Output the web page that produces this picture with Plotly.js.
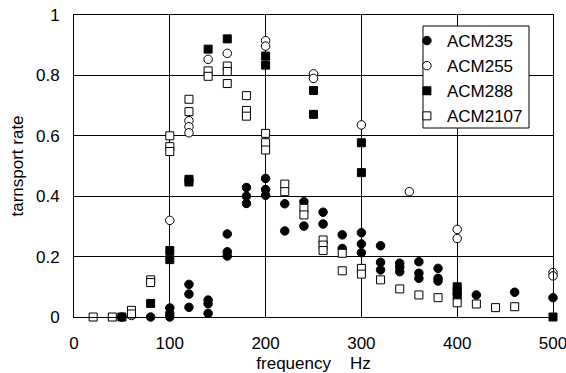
<!DOCTYPE html>
<html>
<head>
<meta charset="utf-8">
<script src="https://cdn.plot.ly/plotly-3.0.1.min.js"></script>
<style>html,body{margin:0;padding:0;background:#fff;}#chart{width:566px;height:373px;}</style>
</head>
<body>
<div id="chart"></div>
<script>
// ACM235 (filled circles)
const acm235Freq = [50, 80, 100, 100, 100, 120, 120, 120, 140, 140, 140, 160, 160, 160, 180, 180, 180, 200, 200, 200, 220, 220, 240, 240, 260, 260, 280, 280, 300, 300, 300, 320, 320, 320, 340, 340, 340, 360, 360, 360, 380, 380, 380, 420, 460, 500];
const acm235Rate = [0.0, 0.0, 0.03, 0.012, 0.0, 0.108, 0.076, 0.032, 0.056, 0.044, 0.012, 0.275, 0.216, 0.202, 0.429, 0.400, 0.376, 0.459, 0.422, 0.403, 0.375, 0.285, 0.382, 0.301, 0.347, 0.308, 0.272, 0.227, 0.279, 0.242, 0.213, 0.236, 0.181, 0.156, 0.178, 0.165, 0.150, 0.183, 0.145, 0.128, 0.161, 0.128, 0.119, 0.073, 0.082, 0.064];

// ACM255 (open circles)
const acm255Freq = [60, 100, 120, 120, 120, 140, 160, 200, 200, 250, 250, 300, 350, 400, 400, 500, 500];
const acm255Rate = [0.005, 0.32, 0.65, 0.63, 0.61, 0.853, 0.873, 0.915, 0.897, 0.805, 0.79, 0.636, 0.415, 0.29, 0.26, 0.147, 0.136];

// ACM288 (filled squares)
const acm288Freq = [50, 80, 100, 100, 120, 120, 140, 160, 200, 200, 250, 250, 300, 300, 400, 400, 400, 500];
const acm288Rate = [0.0, 0.045, 0.22, 0.19, 0.456, 0.447, 0.887, 0.921, 0.864, 0.834, 0.75, 0.671, 0.577, 0.478, 0.10, 0.085, 0.07, 0.0];

// ACM2107 (open squares)
const acm2107Freq = [20, 40, 60, 60, 80, 80, 100, 100, 100, 120, 120, 140, 140, 160, 160, 160, 180, 180, 180, 200, 200, 200, 220, 220, 240, 240, 260, 260, 260, 280, 280, 300, 300, 320, 340, 360, 380, 400, 420, 440, 460];
const acm2107Rate = [0.0, 0.0, 0.022, 0.01, 0.123, 0.114, 0.60, 0.564, 0.548, 0.721, 0.68, 0.815, 0.797, 0.831, 0.813, 0.773, 0.733, 0.684, 0.665, 0.608, 0.577, 0.553, 0.44, 0.415, 0.36, 0.338, 0.255, 0.238, 0.22, 0.211, 0.153, 0.161, 0.142, 0.123, 0.093, 0.073, 0.064, 0.047, 0.043, 0.031, 0.034];

const seriesNames = ['ACM235', 'ACM255', 'ACM288', 'ACM2107'];

const FONT = 'Arial, "Liberation Sans", sans-serif';

function mk(x, y, name, symbol, filled, size, group) {
  return {
    type: 'scatter', mode: 'markers', x: x, y: y, name: name,
    legendgroup: group, cliponaxis: false,
    marker: {
      symbol: symbol, size: size,
      color: filled ? '#000' : '#fff',
      line: {color: '#000', width: 1}
    }
  };
}

const data = [
  mk(acm235Freq, acm235Rate, seriesNames[0], 'circle', true, 8.5, 'g1'),
  mk(acm255Freq, acm255Rate, seriesNames[1], 'circle', false, 8.5, 'g2'),
  mk(acm288Freq, acm288Rate, seriesNames[2], 'square', true, 8, 'g3'),
  mk(acm2107Freq, acm2107Rate, seriesNames[3], 'square', false, 8, 'g4')
];

const axisCommon = {
  showgrid: true, gridcolor: '#000', gridwidth: 1,
  showline: true, linecolor: '#000', linewidth: 1, mirror: true,
  zeroline: false, ticks: '', ticklabeloverflow: 'allow',
  tickfont: {family: FONT, size: 17, color: '#000'}
};

const layout = {
  width: 566, height: 373,
  margin: {l: 74, r: 13, t: 15, b: 56, pad: 0},
  paper_bgcolor: '#fff', plot_bgcolor: '#fff',
  font: {family: FONT, size: 17, color: '#000'},
  xaxis: Object.assign({}, axisCommon, {
    range: [0, 500], tick0: 0, dtick: 100,
    ticklabelstandoff: 11,
    title: {text: 'frequency\u00a0\u00a0\u00a0\u00a0Hz', font: {family: FONT, size: 17, color: '#000'}, standoff: 4}
  }),
  yaxis: Object.assign({}, axisCommon, {
    range: [0, 1], tick0: 0, dtick: 0.2,
    ticklabelstandoff: 10,
    title: {text: 'tarnsport rate', font: {family: FONT, size: 17, color: '#000'}, standoff: 8}
  }),
  shapes: [{
    type: 'rect', xref: 'paper', yref: 'paper',
    x0: 0.7286, x1: 0.9499, y0: 0.6258, y1: 0.9636,
    fillcolor: '#fff', line: {color: '#000', width: 1}, layer: 'above'
  }],
  showlegend: true,
  legend: {
    x: 0.695, y: 0.9735, xanchor: 'left', yanchor: 'top',
    bgcolor: 'rgba(0,0,0,0)', borderwidth: 0,
    font: {family: FONT, size: 17, color: '#000'},
    tracegroupgap: 0
  }
};

Plotly.newPlot('chart', data, layout, {displayModeBar: false, staticPlot: true});
</script>
</body>
</html>
